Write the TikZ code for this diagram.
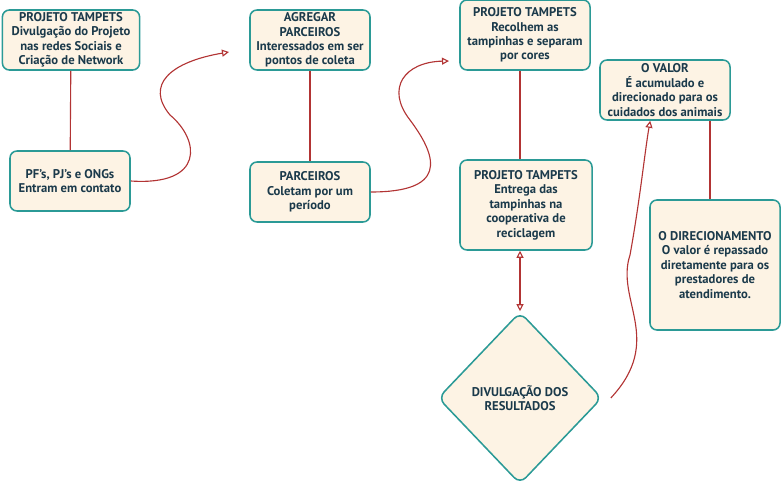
\documentclass[tikz,border=0pt]{standalone}
\usepackage{fontspec}
\setmainfont{PT Sans}
\usetikzlibrary{shapes.geometric,arrows.meta}
\definecolor{boxfill}{RGB}{253,243,228}
\definecolor{boxline}{RGB}{43,154,150}
\definecolor{txt}{RGB}{27,58,75}
\definecolor{arrowred}{RGB}{178,52,52}
\begin{document}
\begin{tikzpicture}[x=0.025cm, y=-0.025cm,
    card/.style={draw=boxline, fill=boxfill, line width=1.1pt, rounded corners=5pt,
        align=center, text=txt, font=\fontsize{9}{10.3}\selectfont\bfseries, inner sep=1pt},
    losango/.style={card, shape=diamond, rounded corners=6pt},
    link/.style={draw=arrowred, line width=0.8pt},
    seta/.style={link, -{Triangle[open, length=5pt, width=5pt]}}]
    \useasboundingbox (0,0) rectangle (781,491);

    % Etapa 1
    \node[card, minimum width=3.43cm, minimum height=1.5cm] (divulga) at (71,40)
        {PROJETO TAMPETS\\Divulgação do Projeto\\nas redes Sociais e\\Criação de Network};
    \node[card, minimum width=3cm, minimum height=1.5cm] (contato) at (70,181)
        {PF's, PJ's e ONGs\\Entram em contato};
    \draw[link] (divulga) -- (contato);
    \coordinate (fim1) at (229,52);
    \draw[seta] (contato.east) .. controls (205,186) and (200,140) .. (170,115)
        .. controls (145,85) and (170,62) .. (fim1);

    % Etapa 2
    \node[card, minimum width=3cm, minimum height=1.5cm] (agregar) at (310,40)
        {AGREGAR\\PARCEIROS\\Interessados em ser\\pontos de coleta};
    \node[card, minimum width=3cm, minimum height=1.5cm] (parceiros) at (310,192)
        {PARCEIROS\\Coletam por um\\período};
    \draw[link] (agregar) -- (parceiros);
    \coordinate (fim2) at (449,61);
    \draw[seta] (parceiros.east) .. controls (445,192) and (440,160) .. (410,120)
        .. controls (385,88) and (405,62) .. (fim2);

    % Etapa 3
    \node[card, minimum width=3.25cm, minimum height=1.75cm] (recolhem) at (525,35)
        {PROJETO TAMPETS\\Recolhem as\\tampinhas e separam\\por cores};
    \node[card, minimum width=3.3cm, minimum height=2.25cm] (entrega) at (526,205)
        {PROJETO TAMPETS\\Entrega das\\tampinhas na\\cooperativa de\\reciclagem};
    \node[losango, minimum width=4.1cm, minimum height=4.3cm] (resultados) at (520,398)
        {DIVULGAÇÃO DOS\\RESULTADOS};
    \draw[link] (recolhem.south -| resultados.north) -- (entrega.north -| resultados.north);
    \draw[link, {Triangle[open, length=5pt, width=5pt]}-{Triangle[open, length=5pt, width=5pt]}]
        (entrega.south -| resultados.north) -- (resultados.north);

    % Etapa 4
    \node[card, minimum width=3.25cm, minimum height=1.5cm] (valor) at (665,90)
        {O VALOR\\É acumulado e\\direcionado para os\\cuidados dos animais};
    \node[card, minimum width=3.25cm, minimum height=3.25cm] (direciona) at (715,265)
        {O DIRECIONAMENTO\\O valor é repassado\\diretamente para os\\prestadores de\\atendimento.};
    \draw[seta] ([xshift=0.2cm]resultados.east) .. controls (665,340) and (615,300) .. (630,255)
        .. controls (640,200) and (645,150) .. ([xshift=-0.37cm]valor.south);
    \draw[link] ([xshift=-0.125cm]valor.south -| direciona.north)
        -- ([xshift=-0.125cm]direciona.north);
\end{tikzpicture}
\end{document}
